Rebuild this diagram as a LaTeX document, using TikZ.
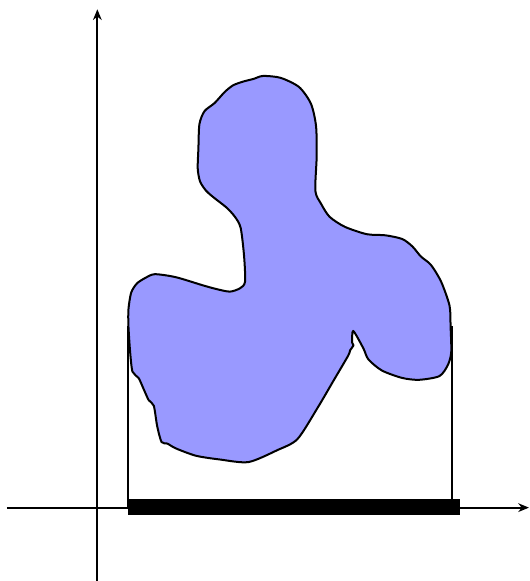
\documentclass[tikz,border=0pt]{standalone}
\usetikzlibrary{arrows.meta}
\definecolor{blobfill}{HTML}{9999FF}
\begin{document}
\begin{tikzpicture}[x=0.2535pt,y=-0.2779pt,
  axis/.style={line width=1.4pt,-{Stealth[length=8pt,width=6.5pt,inset=2.5pt]}},
  proj/.style={line width=1.4pt},
  blob/.style={fill=blobfill,draw=black,line width=1.5pt,line join=round}]
\useasboundingbox (0,0) rectangle (1568,1568);
% blob
\draw[blob] plot[smooth cycle,tension=0.45] coordinates {
(778,205) (830,210) (885,235) (920,280) (935,340) (937,420) (933,515)
(950,550) (975,585) (1020,612) (1085,632) (1140,635) (1190,645) (1220,665)
(1245,692) (1275,715) (1305,760) (1330,825) (1333,880) (1335,950) (1325,985)
(1300,1015) (1240,1025) (1190,1020) (1130,1000) (1090,970) (1075,940)
(1045,893) (1042,925) (1046,932) (1036,945) (1030,960)
(985,1030) (940,1100) (880,1185) (820,1215) (735,1247) (650,1240) (580,1230)
(520,1210) (495,1197) (478,1193) (465,1150) (455,1095) (440,1080) (425,1050)
(410,1020) (392,1003) (385,950) (380,880) (380,835) (388,790) (405,765)
(430,750) (458,740) (520,748) (600,770) (640,780) (680,787) (710,778)
(725,760) (722,690) (712,615) (695,585) (670,560) (635,535) (610,515)
(592,490) (585,455) (587,400) (590,335) (605,300) (635,278) (665,248)
(690,230) (720,220) (750,213)};
% projection lines
\coordinate (l0) at (378,880); \coordinate (l1) at (378,1370);
\coordinate (r0) at (1338,880); \coordinate (r1) at (1338,1370);
\draw[proj] (l0) -- (l1);
\draw[proj] (r0) -- (r1);
% axes
\coordinate (xa) at (20,1370); \coordinate (xb) at (1565,1370);
\coordinate (ya) at (288,1568); \coordinate (yb) at (288,25);
\draw[axis] (xa) -- (xb);
\draw[axis] (ya) -- (yb);
% bar
\fill[black] (380,1348) rectangle (1360,1390);
\end{tikzpicture}
\end{document}
